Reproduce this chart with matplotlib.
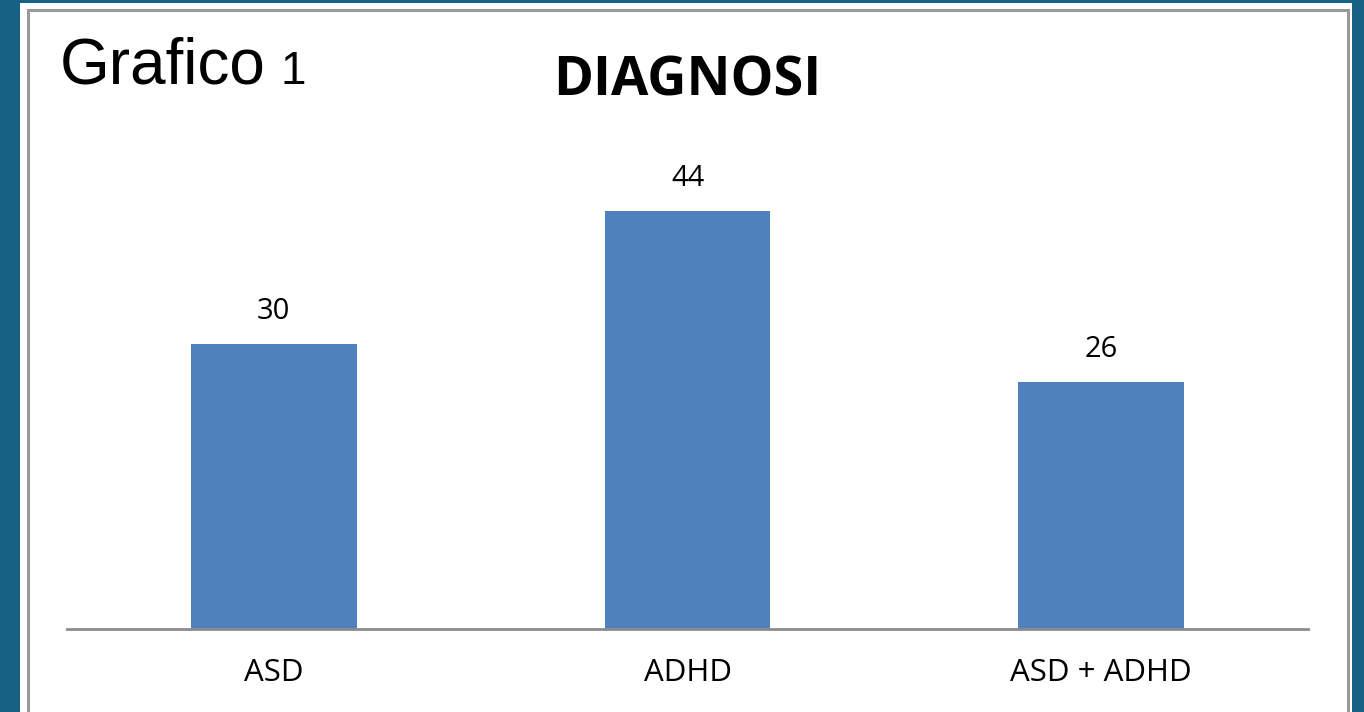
import matplotlib.pyplot as plt
from matplotlib.patches import Rectangle

# dati
categorie = ["ASD", "ADHD", "ASD + ADHD"]
valori = [30, 44, 26]

W, H = 1364, 712
fig = plt.figure(figsize=(W / 100, H / 100), dpi=100)
fig.patch.set_facecolor("#176185")

# pannello bianco e cornice grigia
fig.patches.append(Rectangle((20 / W, 0), (1352 - 20) / W, (H - 3) / H,
                             transform=fig.transFigure, facecolor="white",
                             edgecolor="none", zorder=-2))
fig.patches.append(Rectangle((28 / W, -0.05), (1348 - 28) / W, (H - 10) / H + 0.05,
                             transform=fig.transFigure, facecolor="none",
                             edgecolor="#999999", linewidth=2.2, zorder=-1))

ax = fig.add_axes([67 / W, (H - 629) / H, (1308 - 67) / W, (629 - 154) / H])
ax.set_zorder(2)
ax.set_facecolor("none")
x = range(len(categorie))
bars = ax.bar(x, valori, width=0.4, color="#4F81BD", zorder=2)
ax.set_xlim(-0.5, 2.5)
ax.set_ylim(0, 50)

for b, v in zip(bars, valori):
    ax.annotate(str(v), (b.get_x() + b.get_width() / 2, v),
                xytext=(0, 18), textcoords="offset points",
                ha="center", va="baseline", fontsize=21,
                family="Open Sans", color="black")

ax.set_xticks(list(x))
ax.set_xticklabels(categorie, fontsize=22.5, family="Open Sans")
ax.tick_params(axis="x", length=0, pad=21)
ax.set_yticks([])
for s in ["top", "right", "left"]:
    ax.spines[s].set_visible(False)
ax.spines["bottom"].set_color("#8c8c8c")
ax.spines["bottom"].set_linewidth(2)

fig.text(687 / W, 1 - 95 / H, "DIAGNOSI", ha="center", va="baseline",
         fontsize=39, fontweight="bold", family="Open Sans")

fig.text(60 / W, 1 - 84 / H, "Grafico", ha="left", va="baseline",
         fontsize=46, family="Liberation Sans")
fig.text(281 / W, 1 - 84 / H, "1", ha="left", va="baseline",
         fontsize=33, family="Liberation Sans")

fig.savefig("out.png", dpi=100, facecolor=fig.get_facecolor())
